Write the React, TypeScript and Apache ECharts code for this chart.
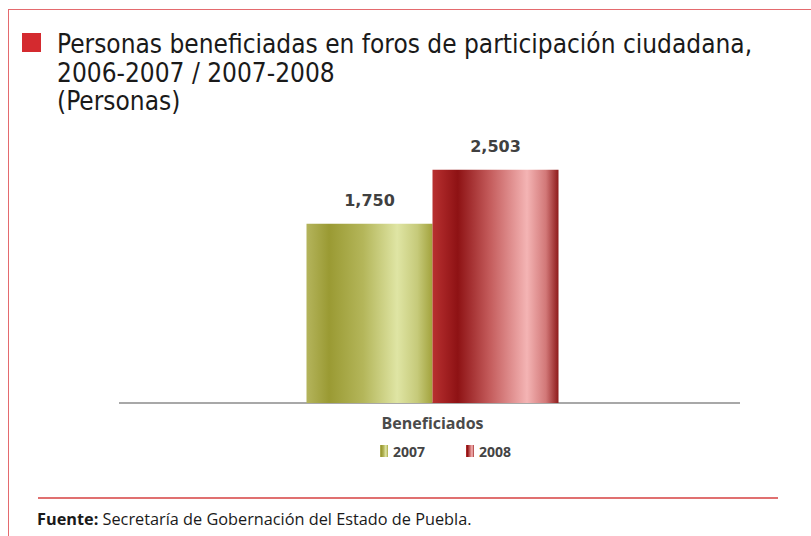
import React, { useEffect, useRef } from "react";
import * as echarts from "echarts";

const categories = ["Beneficiados"];
const seriesNames = ["2007", "2008"];
const values2007 = [1750];
const values2008 = [2503];
const titleLines = [
  "Personas beneficiadas en foros de participación ciudadana,",
  "2006-2007 / 2007-2008",
  "(Personas)",
];
const sourceLabel = "Fuente:";
const sourceText = " Secretaría de Gobernación del Estado de Puebla.";
// the reference's value scale has its floor below zero (perspective floor of the original chart)
const axisFloor = -750;
const axisCeil = 3000;

const TITLE_FONT = '"Liberation Sans Narrow", "DejaVu Sans Condensed", sans-serif';
const BODY_FONT = '"Open Sans", "Noto Sans", sans-serif';

export default function App() {
  const ref = useRef<HTMLDivElement>(null);
  useEffect(() => {
    document.body.style.margin = "0";
    const chart = echarts.init(ref.current!, null, { renderer: "svg" });
    const green = new echarts.graphic.LinearGradient(0, 0, 1, 0, [
      { offset: 0, color: "#b4b45c" },
      { offset: 0.18, color: "#9a9a33" },
      { offset: 0.45, color: "#b4b65a" },
      { offset: 0.72, color: "#dfe5a4" },
      { offset: 0.88, color: "#c6ca7a" },
      { offset: 1, color: "#a2a23c" },
    ]);
    const red = new echarts.graphic.LinearGradient(0, 0, 1, 0, [
      { offset: 0, color: "#b83030" },
      { offset: 0.2, color: "#8e1214" },
      { offset: 0.45, color: "#c35a5a" },
      { offset: 0.75, color: "#f4b4b4" },
      { offset: 0.9, color: "#d27878" },
      { offset: 1, color: "#8e1a1a" },
    ]);
    const labelCfg = {
      show: true,
      position: "top",
      distance: 15,
      fontSize: 16,
      fontWeight: "bold",
      color: "#404040",
      fontFamily: '"DejaVu Sans", sans-serif',
      formatter: (p: any) => Number(p.value).toLocaleString("en-US"),
    };
    chart.setOption({
      animation: false,
      backgroundColor: "#ffffff",
      title: {
        text: titleLines.join("\n"),
        left: 57,
        top: 30,
        padding: 0,
        textStyle: {
          fontFamily: TITLE_FONT,
          fontSize: 26,
          lineHeight: 28.5,
          fontWeight: "normal",
          color: "#1a1a1a",
        },
      },
      legend: {
        data: seriesNames,
        left: 380,
        top: 444,
        padding: 0,
        icon: "rect",
        itemWidth: 8,
        itemHeight: 12,
        itemGap: 41,
        textStyle: { fontFamily: BODY_FONT, fontSize: 14, fontWeight: "bold", color: "#444" },
      },
      grid: { left: 145, right: 91, top: 134, bottom: 133 },
      xAxis: {
        type: "category",
        data: categories,
        axisLine: { show: false },
        axisTick: { show: false },
        axisLabel: {
          margin: 12,
          fontFamily: BODY_FONT,
          fontSize: 16,
          fontWeight: "bold",
          color: "#4a4a4a",
        },
      },
      yAxis: {
        type: "value",
        min: axisFloor,
        max: axisCeil,
        startValue: axisFloor,
        show: false,
        splitLine: { show: false },
      },
      series: [
        {
          name: seriesNames[0],
          type: "bar",
          data: values2007,
          barWidth: 126,
          barGap: "0%",
          itemStyle: { color: green },
          label: labelCfg,
        },
        {
          name: seriesNames[1],
          type: "bar",
          data: values2008,
          barWidth: 126,
          barGap: "0%",
          itemStyle: { color: red },
          label: labelCfg,
        },
      ],
      graphic: [
        { type: "line", shape: { x1: 8, y1: 9.5, x2: 811, y2: 9.5 }, style: { stroke: "#e46a6e", lineWidth: 1 } },
        { type: "line", shape: { x1: 8.5, y1: 9, x2: 8.5, y2: 536 }, style: { stroke: "#e46a6e", lineWidth: 1 } },
        { type: "rect", shape: { x: 22, y: 33, width: 19, height: 19 }, style: { fill: "#d42a2f" } },
        { type: "line", shape: { x1: 119, y1: 403, x2: 740, y2: 403 }, style: { stroke: "#a8a8a8", lineWidth: 2 } },
        { type: "line", shape: { x1: 38, y1: 498, x2: 778, y2: 498 }, style: { stroke: "#e07070", lineWidth: 2 } },
        {
          type: "text",
          x: 37,
          y: 519,
          style: {
            text: "{b|" + sourceLabel + "}" + sourceText,
            verticalAlign: "middle",
            fontFamily: BODY_FONT,
            fontSize: 16.3,
            fill: "#1a1a1a",
            rich: { b: { fontWeight: "bold", fontFamily: BODY_FONT, fontSize: 16.3, fill: "#1a1a1a" } },
          },
        },
      ],
    });
    return () => chart.dispose();
  }, []);
  return <div ref={ref} style={{ width: 811, height: 536 }} />;
}
